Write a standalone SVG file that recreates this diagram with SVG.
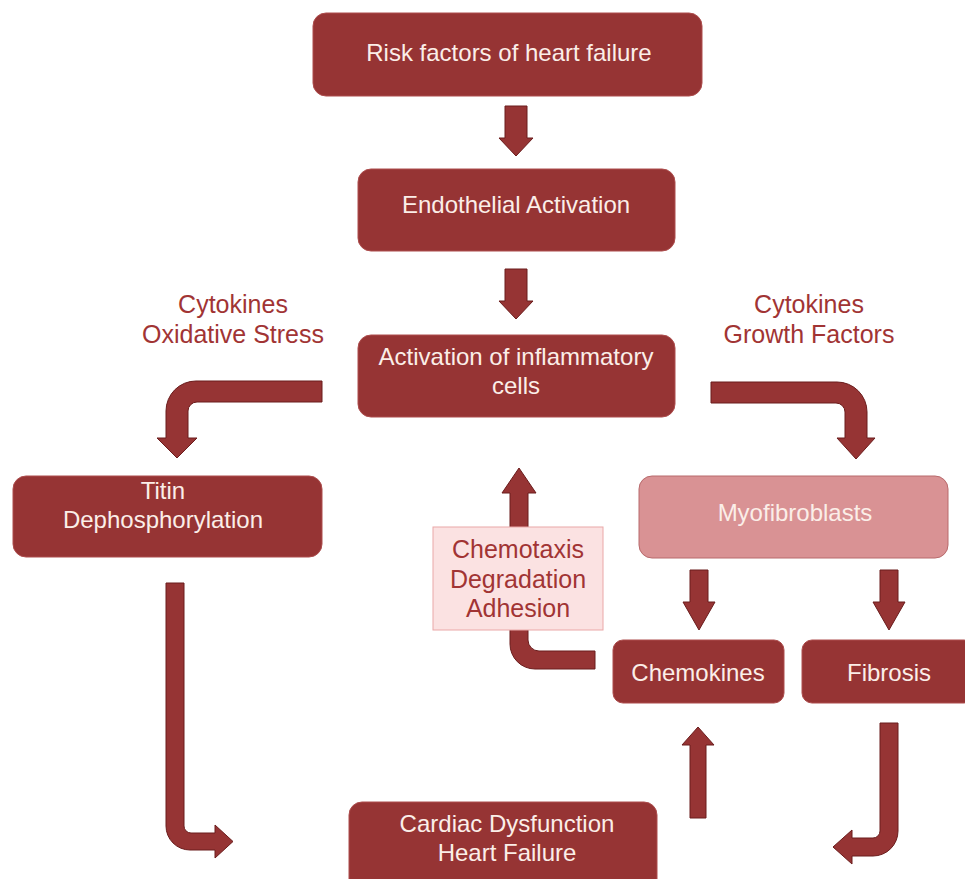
<svg xmlns="http://www.w3.org/2000/svg" width="965" height="879" viewBox="0 0 965 879">
<style>
.box{fill:#963434;stroke:#ad4d4d;stroke-width:1}
.pink{fill:#d99294;stroke:#b86a6c;stroke-width:1}
.light{fill:#fbe2e2;stroke:#eaa8a8;stroke-width:1}
.arr{fill:#963434;stroke:#6a1c1c;stroke-width:1}
text{font-family:"Liberation Sans",Arial,sans-serif;font-size:24px;text-anchor:middle}
.wt{fill:#fbeee8}
.rt{fill:#a13434;font-size:25px}
</style>
<rect width="965" height="879" fill="#ffffff"/>
<g id="connectors">
<path class="arr" d="M505,106 L527,106 L527,138 L533,138 L516,156 L499,138 L505,138 Z"/>
<path class="arr" d="M505,269 L527,269 L527,301 L533,301 L516,319 L499,301 L505,301 Z"/>
<path class="arr" d="M322,381 L196,381 A30,30 0 0 0 166,411 L166,438 L157,438 L177,458 L197,438 L188,438 L188,411 A9,9 0 0 1 197,402 L322,402 Z"/>
<path class="arr" d="M711,382 L837,382 A30,30 0 0 1 867,412 L867,438 L875,438 L856,459 L837,438 L845,438 L845,412 A9,9 0 0 0 836,403 L711,403 Z"/>
<path class="arr" d="M690,570 L708,570 L708,602 L715,602 L699,630 L683,602 L690,602 Z"/>
<path class="arr" d="M880,570 L898,570 L898,602 L905,602 L889,630 L873,602 L880,602 Z"/>
<path class="arr" d="M595,651 L539,651 A11,11 0 0 1 528,640 L528,493 L536,493 L519,468 L502,493 L510,493 L510,644 A25,25 0 0 0 535,669 L595,669 Z"/>
<path class="arr" d="M690,818 L706,818 L706,745 L714,745 L698,727 L682,745 L690,745 Z"/>
<path class="arr" d="M166,583 L184,583 L184,826 A7,7 0 0 0 191,833 L215,833 L215,825 L233,841.5 L215,858 L215,850 L190,850 A24,24 0 0 1 166,826 Z"/>
<path class="arr" d="M880,723 L898,723 L898,831 A25,25 0 0 1 873,856 L852,856 L852,864 L833,847 L852,830 L852,838 L873,838 A7,7 0 0 0 880,831 Z"/>
</g>
<g id="risk">
<rect class="box" x="313" y="13" width="389" height="83" rx="13"/>
<text class="wt" x="509" y="61">Risk factors of heart failure</text>
</g>
<g id="endothelial">
<rect class="box" x="358" y="169" width="317" height="82" rx="13"/>
<text class="wt" x="516" y="213">Endothelial Activation</text>
</g>
<g id="inflammatory">
<rect class="box" x="358" y="335" width="317" height="82" rx="13"/>
<text class="wt" x="516" y="365">Activation of inflammatory</text>
<text class="wt" x="516" y="394">cells</text>
</g>
<g id="label-left">
<text class="rt" x="233" y="313">Cytokines</text>
<text class="rt" x="233" y="343">Oxidative Stress</text>
</g>
<g id="label-right">
<text class="rt" x="809" y="313">Cytokines</text>
<text class="rt" x="809" y="343">Growth Factors</text>
</g>
<g id="titin">
<rect class="box" x="13" y="476" width="309" height="81" rx="13"/>
<text class="wt" x="163" y="499">Titin</text>
<text class="wt" x="163" y="528">Dephosphorylation</text>
</g>
<g id="myofibroblasts">
<rect class="pink" x="639" y="476" width="309" height="82" rx="13"/>
<text class="wt" x="795" y="521">Myofibroblasts</text>
</g>
<g id="chemotaxis">
<rect class="light" x="433" y="527" width="170" height="103"/>
<text class="rt" x="518" y="558">Chemotaxis</text>
<text class="rt" x="518" y="588">Degradation</text>
<text class="rt" x="518" y="617">Adhesion</text>
</g>
<g id="chemokines">
<rect class="box" x="613" y="640" width="171" height="63" rx="10"/>
<text class="wt" x="698" y="681">Chemokines</text>
</g>
<g id="fibrosis">
<rect class="box" x="802" y="640" width="172" height="63" rx="10"/>
<text class="wt" x="889" y="681">Fibrosis</text>
</g>
<g id="cardiac">
<rect class="box" x="349" y="802" width="308" height="90" rx="13"/>
<text class="wt" x="507" y="832">Cardiac Dysfunction</text>
<text class="wt" x="507" y="861">Heart Failure</text>
</g>
</svg>
